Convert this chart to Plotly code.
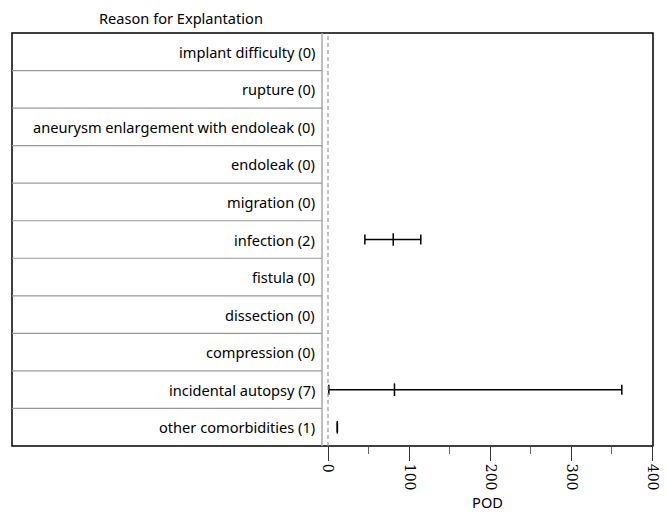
import plotly.graph_objects as go

categories = ["implant difficulty", "rupture", "aneurysm enlargement with endoleak",
              "endoleak", "migration", "infection", "fistula", "dissection",
              "compression", "incidental autopsy", "other comorbidities"]
counts = [0, 0, 0, 0, 0, 2, 0, 0, 0, 7, 1]
pod_median = [None, None, None, None, None, 80.5, None, None, None, 82, 11.5]
pod_low = [None, None, None, None, None, 45.5, None, None, None, 1, 11.5]
pod_high = [None, None, None, None, None, 114.5, None, None, None, 362.5, 11.5]
x_ticks = [0, 100, 200, 300, 400]
x_minor = [50, 150, 250, 350]

# page body has an 8px margin, so the figure is drawn 8px in from the window corner
off = 8
W, H = 668 - off, 513 - off
ml, mr, mt, mb = 12 - off, 15, 33 - off, 67
panel_px = 322 - off
dom0 = (panel_px - ml) / (W - ml - mr)
title_x = (181 - off - ml) / (W - ml - mr)

xs, ys, ep, em = [], [], [], []
for i, (m, lo, hi) in enumerate(zip(pod_median, pod_low, pod_high)):
    if m is None:
        continue
    xs.append(m); ys.append(i); ep.append(hi - m); em.append(m - lo)

fig = go.Figure()
fig.add_trace(go.Scatter(
    x=xs, y=ys, mode="markers",
    marker=dict(symbol="line-ns", size=9, line=dict(color="black", width=1.5), color="black"),
    error_x=dict(type="data", array=ep, arrayminus=em, symmetric=False,
                 color="black", thickness=1.5, width=5),
    showlegend=False, hoverinfo="skip"))

font_fam = "Noto Sans, Open Sans, sans-serif"
fs = 14.6
shapes = []
shapes.append(dict(type="rect", xref="paper", yref="paper", x0=0, x1=1, y0=0, y1=1,
                   line=dict(color="black", width=1.5)))
shapes.append(dict(type="line", xref="paper", yref="paper", x0=dom0, x1=dom0, y0=0, y1=1,
                   line=dict(color="#aaaaaa", width=1.5)))
for i in range(len(categories) - 1):
    shapes.append(dict(type="line", xref="paper", yref="y", x0=0, x1=dom0,
                       y0=i + 0.5, y1=i + 0.5, line=dict(color="#999999", width=1.2)))
shapes.append(dict(type="line", xref="x", yref="paper", x0=0, x1=0, y0=0, y1=1,
                   line=dict(color="#999999", width=1.2, dash="4px,3px")))

annotations = []
for i, (c, n) in enumerate(zip(categories, counts)):
    annotations.append(dict(xref="paper", yref="y", x=dom0 - 0.008, y=i,
                            text=f"{c} ({n})", showarrow=False, xanchor="right",
                            font=dict(size=fs, color="black", family=font_fam)))
annotations.append(dict(xref="paper", yref="paper", x=title_x, y=1, yshift=15,
                        text="Reason for Explantation", showarrow=False,
                        xanchor="center", yanchor="middle",
                        font=dict(size=fs, color="black", family=font_fam)))

fig.update_layout(
    width=W, height=H, margin=dict(l=ml, r=mr, t=mt, b=mb, autoexpand=False),
    plot_bgcolor="white", paper_bgcolor="white",
    shapes=shapes, annotations=annotations,
    font=dict(family=font_fam, size=fs, color="black"),
    xaxis=dict(domain=[dom0, 1], range=[-7.4, 401], tickvals=x_ticks,
               ticktext=[str(t) for t in x_ticks], tickangle=90, automargin=False,
               ticks="outside", ticklen=14, tickcolor="#333333", tickwidth=1,
               showgrid=False, zeroline=False, showline=False,
               minor=dict(tickvals=x_minor, ticks="outside", ticklen=7,
                          tickcolor="#666666", tickwidth=1, showgrid=False),
               title=dict(text="POD", font=dict(size=fs, family=font_fam), standoff=8),
               tickfont=dict(size=14, family="DejaVu Serif")),
    yaxis=dict(range=[len(categories) - 0.5, -0.5], showticklabels=False, automargin=False,
               showgrid=False, zeroline=False, showline=False, ticks=""),
)
fig.write_html("out.html")
